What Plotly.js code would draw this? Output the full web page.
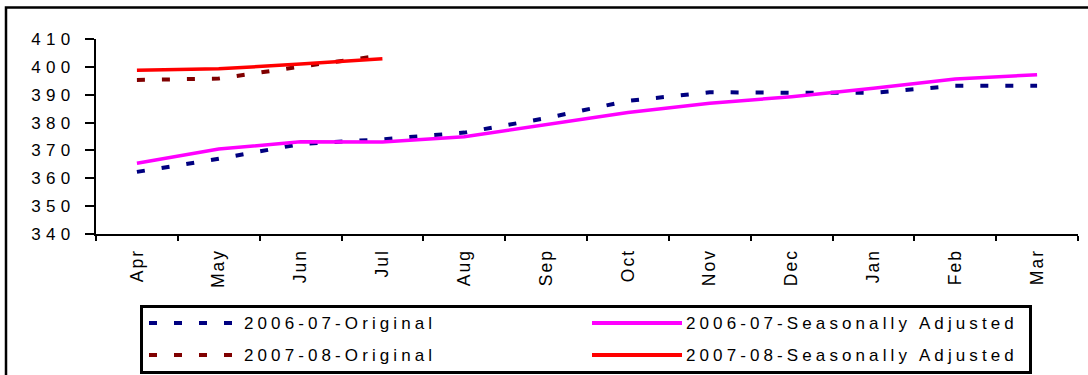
<!DOCTYPE html>
<html>
<head>
<meta charset="utf-8">
<script src="https://cdn.plot.ly/plotly-3.0.1.min.js"></script>
<style>
  html, body { margin: 0; padding: 0; background: #fff; }
  #chart { width: 1088px; height: 375px; }
  .ytick text { letter-spacing: 5.3px; }
  .xtick text { letter-spacing: 2px; }
  .annotation-text { letter-spacing: 4.1px; }
</style>
</head>
<body>
<div id="chart"></div>
<script>
// ---- data ----
const months = ['Apr', 'May', 'Jun', 'Jul', 'Aug', 'Sep', 'Oct', 'Nov', 'Dec', 'Jan', 'Feb', 'Mar'];
const months0708 = ['Apr', 'May', 'Jun', 'Jul'];
const original0607 = [362.3, 367.0, 372.3, 374.0, 376.4, 381.6, 387.8, 390.9, 390.7, 390.7, 393.2, 393.2];
const adjusted0607 = [365.4, 370.5, 373.1, 373.0, 374.9, 379.1, 383.6, 386.9, 389.3, 392.3, 395.6, 397.2];
const original0708 = [395.3, 395.8, 400.1, 404.1];
const adjusted0708 = [398.8, 399.3, 401.0, 402.9];
const seriesNames = ['2006-07-Original', '2006-07-Seasonally Adjusted', '2007-08-Original', '2007-08-Seasonally Adjusted'];
const yTicks = [340, 350, 360, 370, 380, 390, 400, 410];

// ---- styles ----
const colors = ['#000080', '#FF00FF', '#800000', '#FF0000'];
const dashes = ['8px,17px', 'solid', '8px,17px', 'solid'];
const widths = [4, 3.5, 4, 3.5];
const FONT = 'Arial, "Liberation Sans", sans-serif';

const W = 1088, H = 375;
const L = 96, R = 1078, T = 39, B = 234;
const pxX = x => (x - L) / (R - L);
const pxY = y => (B - y) / (B - T);

const traces = [
  {x: months, y: original0607, name: seriesNames[0], idx: 0},
  {x: months0708, y: original0708, name: seriesNames[2], idx: 2},
  {x: months, y: adjusted0607, name: seriesNames[1], idx: 1},
  {x: months0708, y: adjusted0708, name: seriesNames[3], idx: 3}
].map(t => ({
  type: 'scatter', mode: 'lines', x: t.x, y: t.y, name: t.name,
  line: {color: colors[t.idx], width: widths[t.idx], dash: dashes[t.idx]},
  hoverinfo: 'x+y+name'
}));

// custom legend (two columns, two rows)
const legendPos = [
  {sx0: 149, sx1: 233, tx: 242, y: 323},
  {sx0: 592, sx1: 682, tx: 684, y: 323},
  {sx0: 149, sx1: 233, tx: 242, y: 355},
  {sx0: 592, sx1: 682, tx: 684, y: 355}
];
const shapes = [
  // outer frame
  {type: 'rect', xref: 'paper', yref: 'paper', x0: pxX(6), x1: pxX(1100), y0: pxY(400), y1: pxY(7.5),
   line: {color: '#000', width: 2.5}, fillcolor: 'rgba(0,0,0,0)', layer: 'below'},
  // legend box
  {type: 'rect', xref: 'paper', yref: 'paper', x0: pxX(141.5), x1: pxX(1030.5), y0: pxY(372.5), y1: pxY(306.5),
   line: {color: '#000', width: 3}, fillcolor: 'rgba(0,0,0,0)'}
];
const annotations = [];
legendPos.forEach((p, i) => {
  shapes.push({type: 'line', xref: 'paper', yref: 'paper', x0: pxX(p.sx0), x1: pxX(p.sx1), y0: pxY(p.y), y1: pxY(p.y),
    line: {color: colors[i], width: 4, dash: dashes[i]}});
  annotations.push({xref: 'paper', yref: 'paper', x: pxX(p.tx), y: pxY(p.y), xanchor: 'left', yanchor: 'middle',
    text: seriesNames[i], showarrow: false, font: {family: FONT, size: 17, color: '#000'}});
});

const layout = {
  width: W, height: H,
  margin: {l: L, r: W - R, t: T, b: H - B, pad: 0},
  paper_bgcolor: '#fff', plot_bgcolor: '#fff',
  showlegend: false,
  font: {family: FONT, color: '#000'},
  xaxis: {
    type: 'category', categoryorder: 'array', categoryarray: months,
    range: [-0.5, 11.5], tickson: 'boundaries',
    showline: true, linecolor: '#000', linewidth: 2,
    ticks: 'outside', ticklen: 5, tickwidth: 2, tickcolor: '#000',
    ticklabelstandoff: 6,
    tickangle: -90, tickfont: {family: FONT, size: 17.5, color: '#000'},
    showgrid: false, zeroline: false, fixedrange: true
  },
  yaxis: {
    range: [340, 410], tickvals: yTicks, ticktext: yTicks.map(String),
    showline: true, linecolor: '#000', linewidth: 2,
    ticks: 'outside', ticklen: 9, tickwidth: 2, tickcolor: '#000',
    ticklabelstandoff: 6,
    tickfont: {family: FONT, size: 17, color: '#000'},
    showgrid: false, zeroline: false, fixedrange: true
  },
  shapes: shapes,
  annotations: annotations
};

Plotly.newPlot('chart', traces, layout, {displayModeBar: false, staticPlot: true});
</script>
</body>
</html>
